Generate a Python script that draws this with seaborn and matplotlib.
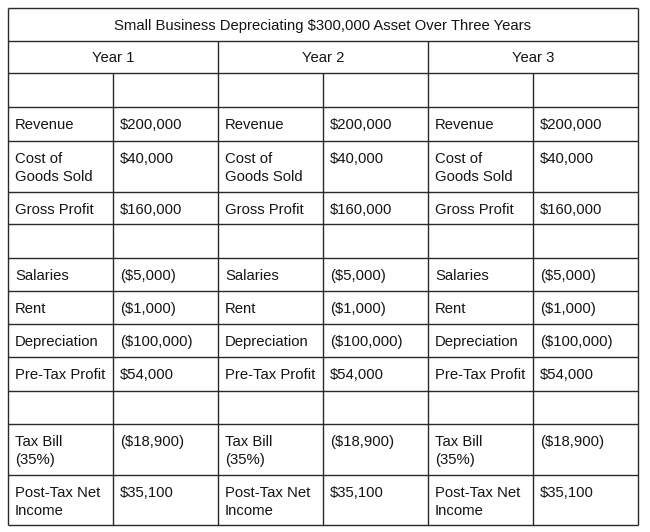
import matplotlib
matplotlib.use("Agg")
import matplotlib.pyplot as plt
import seaborn as sns

# ---- data ----
title = "Small Business Depreciating $300,000 Asset Over Three Years"
years = ["Year 1", "Year 2", "Year 3"]
row_labels = ["", "Revenue", "Cost of\nGoods Sold", "Gross Profit", "",
              "Salaries", "Rent", "Depreciation", "Pre-Tax Profit", "",
              "Tax Bill\n(35%)", "Post-Tax Net\nIncome"]
row_values = ["", "$200,000", "$40,000", "$160,000", "",
              "($5,000)", "($1,000)", "($100,000)", "$54,000", "",
              "($18,900)", "$35,100"]

# ---- layout (pixels) ----
row_edges = [7.7, 40.7, 73.3, 107, 140.7, 191.7, 224.3, 257.7, 291, 324,
             357.3, 390.7, 424.3, 475, 525]
col_w = 105
x0 = 7.7
n_cols = 2 * len(years)
col_edges = [x0 + i * col_w for i in range(n_cols + 1)]

sns.set_theme(style="white")
plt.rcParams['font.family'] = ['Liberation Sans', 'DejaVu Sans']
fs = 10.7
tc = "#151515"
lc = "#2a2a2a"

fig = plt.figure(figsize=(6.5, 5.32), dpi=100)
ax = fig.add_axes([0, 0, 1, 1])
ax.set_xlim(0, 650)
ax.set_ylim(532, 0)
ax.axis("off")

left, right = col_edges[0], col_edges[-1]
top, bottom = row_edges[0], row_edges[-1]

# outer border and horizontal lines
ax.hlines(row_edges, left, right, color=lc, lw=1.0)
ax.vlines([left, right], top, bottom, color=lc, lw=1.0)
# year separators
year_edges = [col_edges[2 * i] for i in range(1, len(years))]
ax.vlines(year_edges, row_edges[1], bottom, color=lc, lw=1.0)
# inner column separators
inner = [col_edges[2 * i + 1] for i in range(len(years))]
ax.vlines(inner, row_edges[2], bottom, color=lc, lw=1.0)

dy_c = 1.5
# title
ax.text((left + right) / 2, (row_edges[0] + row_edges[1]) / 2 + dy_c, title,
        ha="center", va="center", fontsize=fs, color=tc)
# years
for i, y in enumerate(years):
    cx = (col_edges[2 * i] + col_edges[2 * i + 2]) / 2
    ax.text(cx, (row_edges[1] + row_edges[2]) / 2 + dy_c, y, ha="center",
            va="center", fontsize=fs, color=tc)

pad_x = 7.3
pad_y = 11
for i in range(len(years)):
    for r, (lab, val) in enumerate(zip(row_labels, row_values)):
        ytop = row_edges[r + 2] + pad_y
        if lab:
            ax.text(col_edges[2 * i] + pad_x, ytop, lab, ha="left", va="top",
                    fontsize=fs, color=tc, linespacing=1.38)
        if val:
            ax.text(col_edges[2 * i + 1] + pad_x, ytop, val, ha="left", va="top",
                    fontsize=fs, color=tc)

fig.savefig("out.png", dpi=100, facecolor="white")
